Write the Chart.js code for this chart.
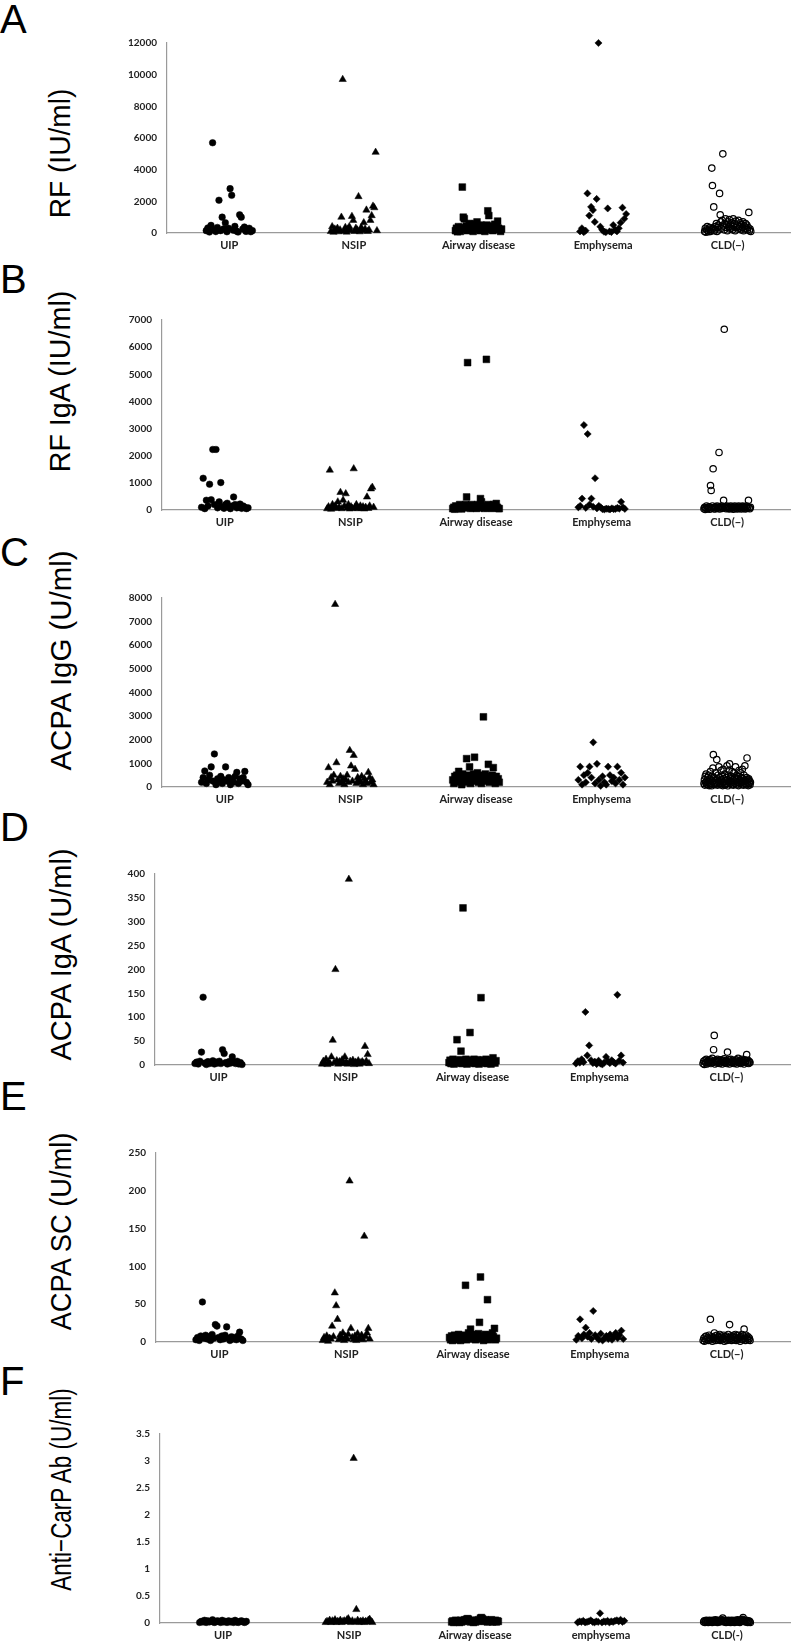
<!DOCTYPE html>
<html>
<head>
<meta charset="utf-8">
<script src="https://cdn.jsdelivr.net/npm/chart.js@4"></script>
<style>
  body { margin: 0; background: #fff; width: 798px; height: 1650px; position: relative; overflow: hidden;
         font-family: 'Liberation Sans', Arial, sans-serif; }
  .letter { position: absolute; left: 0; font-size: 40px; line-height: 40px; color: #000; }
  .ytitle { position: absolute; font-size: 29px; line-height: 29px; white-space: nowrap; color: #000; }
  canvas { position: absolute; }
</style>
</head>
<body>
<script>
// categories
const categories = ['UIP', 'NSIP', 'Airway disease', 'Emphysema', 'CLD(\u2212)'];
const categoriesCarP = ['UIP', 'NSIP', 'Airway disease', 'emphysema', 'CLD(-)'];

// tick labels
const rfTicks = [0, 2000, 4000, 6000, 8000, 10000, 12000];
const rfIgaTicks = [0, 1000, 2000, 3000, 4000, 5000, 6000, 7000];
const acpaIggTicks = [0, 1000, 2000, 3000, 4000, 5000, 6000, 7000, 8000];
const acpaIgaTicks = [0, 50, 100, 150, 200, 250, 300, 350, 400];
const acpaScTicks = [0, 50, 100, 150, 200, 250];
const carpTicks = [0, 0.5, 1, 1.5, 2, 2.5, 3, 3.5];

// A: RF (IU/ml), values left to right inside each group
const rfUIP = [150, 320, 60, 480, 5700, 200, 90, 350, 2070, 150, 1000, 260, 650, 80, 300, 2800, 2380, 180, 420, 120, 60, 1150, 1000, 250, 380, 100, 200, 300, 80, 150];
const rfNSIP = [100, 400, 50, 250, 150, 300, 80, 200, 1000, 9700, 120, 350, 60, 250, 400, 150, 1050, 800, 100, 300, 200, 2300, 80, 350, 150, 650, 250, 1450, 100, 200, 800, 1100, 1700, 1600, 5100, 150];
const rfAirway = [150, 300, 80, 400, 200, 100, 350, 2900, 1000, 900, 250, 450, 150, 300, 500, 600, 200, 400, 100, 550, 300, 450, 700, 250, 400, 150, 500, 300, 200, 450, 100, 350, 500, 1400, 1100, 300, 200, 450, 150, 350, 550, 250, 400, 750, 300, 200, 100, 250];
const rfEmph = [100, 300, 50, 150, 2500, 1100, 1650, 1450, 700, 2150, 12000, 400, 200, 80, 50, 1550, 100, 60, 500, 200, 100, 300, 650, 1600, 900, 1200];
const rfCLD = [100, 300, 50, 200, 400, 150, 80, 250, 350, 100,
  200, 4100, 3000, 300, 1650, 150, 400, 250, 600, 100,
  350, 500, 200, 2500, 1150, 700, 300, 800, 5000, 450,
  200, 600, 900, 350, 500, 150, 700, 400, 850, 250,
  550, 300, 650, 200, 900, 400, 600, 150, 750, 350,
  500, 250, 800, 400, 300, 650, 200, 550, 350, 700,
  150, 450, 250, 600, 300, 500, 200, 350, 1300, 150,
  250, 100];

// B: RF IgA (IU/ml)
const rfIgaUIP = [100, 1170, 50, 360, 150, 950, 380, 2230, 200, 2230, 80, 300, 1010, 120, 60, 200, 250, 100, 50, 150, 480, 200, 80, 100, 220, 60, 150, 100, 50, 80];
const rfIgaNSIP = [50, 120, 1470, 30, 200, 80, 150, 60, 300, 100, 650, 50, 360, 150, 600, 80, 200, 40, 120, 60, 1520, 100, 200, 50, 80, 150, 60, 120, 40, 100, 480, 60, 150, 780, 840, 100];
const rfIgaAirway = [50, 100, 30, 150, 80, 120, 60, 200, 100, 40, 150, 80, 120, 200, 480, 5430, 150, 100, 60, 200, 80, 120, 150, 100, 60, 200, 150, 80, 420, 300, 150, 100, 60, 120, 5550, 80, 200, 100, 150, 60, 120, 200, 80, 150, 240, 100, 60, 50];
const rfIgaEmph = [100, 150, 420, 3130, 80, 2800, 200, 420, 120, 1170, 60, 150, 100, 30, 20, 50, 40, 20, 60, 30, 40, 80, 50, 300, 100, 40];
const rfIgaCLD = [50, 100, 20, 80, 150, 40, 100, 60, 120, 30,
  900, 720, 80, 150, 1520, 50, 100, 40, 120, 80,
  150, 60, 100, 2120, 40, 120, 80, 150, 60, 100,
  360, 6660, 80, 120, 50, 150, 100, 60, 120, 40,
  80, 150, 100, 60, 120, 30, 100, 150, 80, 60,
  120, 40, 100, 150, 60, 80, 120, 40, 100, 150,
  60, 120, 80, 40, 100, 150, 60, 120, 360, 80,
  50, 100];

// C: ACPA IgG (U/ml)
const acpaIggUIP = [200, 400, 680, 150, 300, 500, 850, 250, 1400, 100, 350, 200, 450, 150, 300, 850, 250, 400, 100, 300, 200, 450, 620, 150, 350, 250, 400, 660, 200, 100];
const acpaIggNSIP = [200, 820, 100, 400, 250, 500, 7730, 1030, 300, 150, 450, 200, 350, 100, 300, 500, 200, 1550, 890, 250, 1340, 750, 150, 400, 300, 200, 450, 100, 350, 250, 150, 620, 400, 200, 300, 100];
const acpaIggAirway = [300, 150, 450, 200, 500, 350, 660, 250, 400, 100, 550, 300, 450, 200, 1200, 350, 500, 850, 150, 400, 300, 550, 1260, 250, 450, 600, 200, 350, 500, 150, 400, 2970, 300, 550, 250, 450, 960, 200, 400, 350, 500, 820, 300, 150, 450, 250, 350, 200];
const acpaIggEmph = [300, 860, 100, 500, 200, 600, 860, 400, 1890, 150, 980, 300, 50, 450, 200, 100, 860, 500, 250, 400, 150, 860, 300, 600, 100, 400];
const acpaIggCLD = [150, 300, 80, 450, 200, 550, 120, 250, 400, 100,
  200, 500, 60, 350, 150, 650, 100, 300, 50, 450,
  250, 800, 1370, 150, 400, 200, 100, 600, 300, 150,
  1160, 350, 80, 500, 200, 850, 150, 400, 250, 100,
  700, 300, 150, 450, 60, 750, 200, 350, 100, 550,
  250, 100, 400, 150, 900, 300, 50, 500, 200, 700,
  980, 150, 350, 250, 450, 100, 650, 200, 300, 80,
  600, 250, 400, 150, 850, 300, 100, 500, 350, 200,
  450, 60, 700, 250, 300, 150, 600, 200, 400, 100,
  750, 200, 350, 80, 500, 250, 900, 150, 300, 100,
  400, 1230, 200, 300, 60, 350, 150, 250, 100, 200];

// D: ACPA IgA (U/ml)
const acpaIgaUIP = [3, 6, 2, 8, 27, 142, 4, 1, 7, 3, 5, 9, 2, 6, 4, 8, 3, 32, 24, 5, 2, 7, 4, 17, 6, 3, 8, 2, 5, 1];
const acpaIgaNSIP = [2, 8, 4, 12, 1, 6, 3, 17, 52, 5, 200, 9, 2, 7, 4, 11, 3, 17, 6, 2, 389, 8, 4, 10, 1, 6, 3, 9, 2, 5, 7, 4, 39, 8, 22, 3];
const acpaIgaAirway = [5, 10, 3, 8, 12, 2, 7, 4, 53, 9, 6, 11, 29, 3, 329, 8, 5, 12, 2, 10, 6, 68, 4, 9, 7, 12, 3, 8, 5, 11, 2, 9, 141, 6, 10, 4, 8, 12, 3, 7, 5, 10, 2, 8, 15, 6, 4, 9];
const acpaIgaEmph = [3, 8, 5, 12, 6, 111, 20, 41, 10, 4, 7, 2, 9, 3, 1, 5, 17, 8, 4, 10, 6, 3, 147, 9, 20, 5];
const acpaIgaCLD = [3, 8, 1, 10, 5, 12, 2, 7, 4, 9,
  6, 11, 3, 8, 14, 5, 32, 62, 2, 10,
  7, 4, 12, 6, 9, 3, 11, 5, 8, 2,
  10, 6, 13, 4, 7, 9, 3, 27, 5, 11,
  2, 8, 12, 6, 4, 10, 7, 3, 9, 5,
  11, 2, 8, 14, 6, 4, 10, 3, 7, 12,
  5, 9, 2, 11, 6, 8, 22, 4, 10, 3,
  7, 5];

// E: ACPA SC (U/ml)
const acpaScUIP = [3, 6, 2, 8, 53, 5, 9, 4, 7, 2, 10, 5, 23, 21, 6, 3, 8, 4, 9, 20, 5, 2, 7, 4, 6, 3, 8, 13, 4, 2];
const acpaScNSIP = [2, 6, 3, 8, 1, 5, 4, 21, 7, 65, 48, 30, 3, 9, 5, 12, 2, 7, 4, 10, 213, 18, 6, 3, 8, 2, 11, 5, 4, 9, 3, 140, 7, 12, 18, 4];
const acpaScAirway = [6, 3, 8, 2, 5, 9, 4, 7, 3, 10, 6, 2, 8, 5, 4, 9, 75, 3, 7, 12, 5, 17, 8, 4, 10, 6, 3, 9, 5, 11, 26, 86, 4, 8, 2, 7, 10, 5, 56, 3, 9, 6, 4, 12, 7, 18, 3, 5];
const acpaScEmph = [3, 8, 30, 5, 10, 19, 7, 12, 4, 41, 9, 6, 3, 11, 2, 5, 8, 4, 10, 3, 7, 12, 5, 9, 15, 4];
const acpaScCLD = [2, 5, 1, 7, 3, 8, 4, 6, 2, 9,
  5, 30, 3, 7, 1, 6, 4, 12, 8, 2,
  5, 9, 3, 7, 4, 10, 2, 6, 8, 3,
  5, 9, 1, 7, 4, 8, 2, 6, 10, 3,
  23, 5, 8, 2, 7, 4, 9, 3, 6, 10,
  2, 8, 5, 3, 9, 6, 1, 7, 4, 10,
  3, 8, 17, 5, 2, 9, 6, 4, 7, 3,
  5, 2];

// F: Anti-CarP Ab (U/ml)
const carpUIP = [0.01, 0.03, 0.02, 0.05, 0.01, 0.04, 0.02, 0.03, 0.06, 0.01, 0.02, 0.04, 0.03, 0.01, 0.05, 0.02, 0.03, 0.01, 0.04, 0.02, 0.03, 0.01, 0.05, 0.02, 0.01, 0.03, 0.04, 0.02, 0.01, 0.03];
const carpNSIP = [0.01, 0.03, 0.02, 0.05, 0.01, 0.04, 0.02, 0.06, 0.01, 0.03, 0.02, 0.05, 0.01, 0.03, 0.04, 0.02, 0.06, 0.08, 0.03, 0.01, 0.04, 3.05, 0.02, 0.25, 0.05, 0.01, 0.03, 0.02, 0.04, 0.01, 0.03, 0.02, 0.05, 0.07, 0.03, 0.01];
const carpAirway = [0.02, 0.04, 0.01, 0.03, 0.05, 0.02, 0.04, 0.03, 0.01, 0.05, 0.02, 0.04, 0.03, 0.06, 0.05, 0.07, 0.08, 0.07, 0.04, 0.02, 0.05, 0.03, 0.01, 0.04, 0.02, 0.05, 0.03, 0.06, 0.04, 0.09, 0.1, 0.08, 0.05, 0.03, 0.06, 0.04, 0.02, 0.05, 0.03, 0.04, 0.06, 0.02, 0.04, 0.03, 0.05, 0.02, 0.04, 0.03];
const carpEmph = [0.01, 0.03, 0.02, 0.04, 0.01, 0.02, 0.03, 0.05, 0.02, 0.01, 0.03, 0.02, 0.18, 0.01, 0.03, 0.02, 0.04, 0.01, 0.03, 0.02, 0.04, 0.05, 0.03, 0.06, 0.02, 0.04];
const carpCLD = [0.02, 0.04, 0.01, 0.03, 0.05, 0.02, 0.04, 0.01, 0.03, 0.05,
  0.02, 0.04, 0.03, 0.01, 0.05, 0.02, 0.04, 0.03, 0.06, 0.02,
  0.04, 0.01, 0.03, 0.05, 0.02, 0.04, 0.03, 0.05, 0.06, 0.09,
  0.04, 0.02, 0.03, 0.05, 0.01, 0.04, 0.02, 0.03, 0.05, 0.02,
  0.04, 0.01, 0.03, 0.05, 0.02, 0.04, 0.03, 0.01, 0.05, 0.02,
  0.04, 0.03, 0.06, 0.02, 0.04, 0.01, 0.03, 0.05, 0.06, 0.07,
  0.1, 0.05, 0.03, 0.04, 0.02, 0.05, 0.03, 0.01, 0.04, 0.02,
  0.03, 0.01];

// layout of the six panels (pixel positions only)
const panels = [
  { letter: 'A', letterTop: 4,    title: 'RF (IU/ml)',           titleY: 153,  titleLen: 130, axisX: 167, top: 37,   zero: 233,  ticks: rfTicks,      cats: categories,     groups: [rfUIP, rfNSIP, rfAirway, rfEmph, rfCLD] },
  { letter: 'B', letterTop: 264,  title: 'RF IgA (IU/ml)',       titleY: 381,  titleLen: 182, axisX: 162, top: 314,  zero: 510,  ticks: rfIgaTicks,   cats: categories,     groups: [rfIgaUIP, rfIgaNSIP, rfIgaAirway, rfIgaEmph, rfIgaCLD] },
  { letter: 'C', letterTop: 537,  title: 'ACPA IgG (U/ml)',      titleY: 660,  titleLen: 220, axisX: 162, top: 592,  zero: 787,  ticks: acpaIggTicks, cats: categories,     groups: [acpaIggUIP, acpaIggNSIP, acpaIggAirway, acpaIggEmph, acpaIggCLD] },
  { letter: 'D', letterTop: 812,  title: 'ACPA IgA (U/ml)',      titleY: 954,  titleLen: 212, axisX: 155, top: 868,  zero: 1065, ticks: acpaIgaTicks, cats: categories,     groups: [acpaIgaUIP, acpaIgaNSIP, acpaIgaAirway, acpaIgaEmph, acpaIgaCLD] },
  { letter: 'E', letterTop: 1081, title: 'ACPA SC (U/ml)',       titleY: 1231, titleLen: 198, axisX: 156, top: 1147, zero: 1342, ticks: acpaScTicks,  cats: categories,     groups: [acpaScUIP, acpaScNSIP, acpaScAirway, acpaScEmph, acpaScCLD] },
  { letter: 'F', letterTop: 1366, title: 'Anti\u2212CarP Ab (U/ml)', titleY: 1489, titleLen: 202, axisX: 160, top: 1428, zero: 1623, ticks: carpTicks,    cats: categoriesCarP, groups: [carpUIP, carpNSIP, carpAirway, carpEmph, carpCLD] },
];

// marker per group: UIP circle, NSIP triangle, airway square, emphysema diamond, CLD open circle
const markers = [
  { pointStyle: 'circle',   pointRadius: 3.3, pointBackgroundColor: '#000', pointBorderColor: '#000', pointBorderWidth: 0.5 },
  { pointStyle: 'triangle', pointRadius: 4.2, pointBackgroundColor: '#000', pointBorderColor: '#000', pointBorderWidth: 0.5 },
  { pointStyle: 'rect',     pointRadius: 4.8, pointBackgroundColor: '#000', pointBorderColor: '#000', pointBorderWidth: 0.5 },
  { pointStyle: 'rectRot',  pointRadius: 3.6, pointBackgroundColor: '#000', pointBorderColor: '#000', pointBorderWidth: 0.5 },
  { pointStyle: 'circle',   pointRadius: 3.2, pointBackgroundColor: 'rgba(0,0,0,0)', pointBorderColor: '#000', pointBorderWidth: 1.2 },
];

const JITTER = 0.185;
const Y_FONT = { family: 'Lato, "Open Sans", sans-serif', size: 10, weight: 'bold' };
const X_FONT = { family: 'Lato, "Open Sans", sans-serif', size: 11, weight: 'bold' };

function spread(values, g) {
  const n = values.length;
  return values.map((v, i) => ({ x: g + 1 - JITTER + (2 * JITTER * i) / (n - 1), y: v }));
}

panels.forEach(p => {
  const letter = document.createElement('div');
  letter.className = 'letter';
  letter.style.top = (p.letterTop - 5) + 'px';
  letter.textContent = p.letter;
  document.body.appendChild(letter);

  const title = document.createElement('div');
  title.className = 'ytitle';
  title.textContent = p.title;
  document.body.appendChild(title);
  const w = title.offsetWidth;
  title.style.left = (61 - w / 2) + 'px';
  title.style.top = (p.titleY - 14.5) + 'px';
  title.style.transform = 'rotate(-90deg) scaleX(' + (p.titleLen / w) + ')';

  const canvas = document.createElement('canvas');
  const left = p.axisX - 60;
  canvas.width = 800 - left;
  canvas.height = p.zero - p.top + 40;
  canvas.style.left = left + 'px';
  canvas.style.top = (p.top - 10) + 'px';
  document.body.appendChild(canvas);

  const yMax = p.ticks[p.ticks.length - 1];
  new Chart(canvas.getContext('2d'), {
    type: 'scatter',
    data: {
      datasets: p.groups.map((vals, g) => Object.assign({
        label: p.cats[g],
        data: spread(vals, g),
        clip: false,
      }, markers[g]))
    },
    options: {
      responsive: false,
      animation: false,
      layout: { padding: { top: 10, right: 10, left: 0, bottom: 0 } },
      plugins: { legend: { display: false }, tooltip: { enabled: false } },
      scales: {
        x: {
          type: 'linear', min: 0.5, max: 5.5,
          afterBuildTicks: s => { s.ticks = p.cats.map((c, i) => ({ value: i + 1 })); },
          afterFit: s => { s.height = 30; },
          ticks: { callback: v => p.cats[v - 1], autoSkip: false, maxRotation: 0, padding: 6, color: '#222', font: X_FONT },
          grid: { display: false, drawTicks: false },
          border: { display: true, color: '#9a9a9a', width: 1.2 }
        },
        y: {
          min: 0, max: yMax,
          afterBuildTicks: s => { s.ticks = p.ticks.map(v => ({ value: v })); },
          afterFit: s => { s.width = 60; },
          ticks: { callback: v => String(v), padding: 10, color: '#222', font: Y_FONT },
          grid: { display: false, drawTicks: false },
          border: { display: true, color: '#9a9a9a', width: 1.2 }
        }
      }
    }
  });
});
</script>
</body>
</html>
